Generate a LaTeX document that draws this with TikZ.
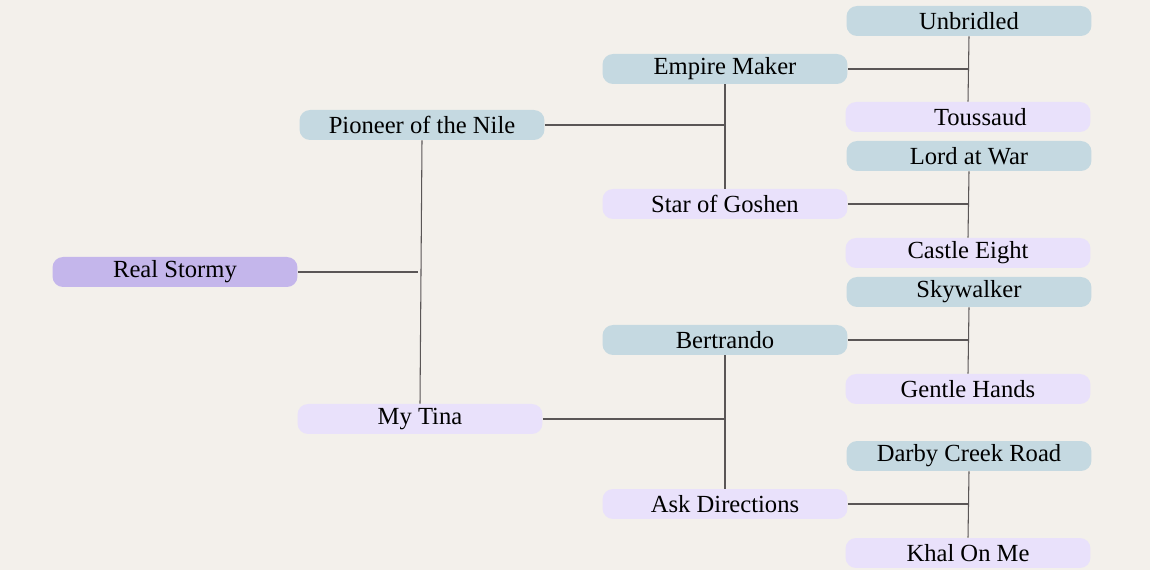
\documentclass[tikz,border=0pt]{standalone}
\usepackage{fontspec}
\setmainfont{Liberation Serif}
\definecolor{paper}{HTML}{F3F0EB}
\definecolor{sireblue}{HTML}{C5D9E1}
\definecolor{damlilac}{HTML}{E9E1FB}
\definecolor{rootlilac}{HTML}{C4B6EB}
\definecolor{wire}{HTML}{5A5656}
\begin{document}
\begin{tikzpicture}[x=0.02cm,y=-0.02cm,
	horse/.style={rounded corners=6pt,minimum width=4.9cm,minimum height=0.6cm,inner sep=0pt,font=\fontsize{14}{16}\selectfont},
	sire/.style={horse,fill=sireblue},
	dam/.style={horse,fill=damlilac},
	root/.style={horse,fill=rootlilac},
	wire/.style={draw=wire,line width=0.6pt}]
		
		\fill[paper] (0,0) rectangle (1150,570);
		\useasboundingbox (0,0) rectangle (1150,570);
		
		\node[root] (rs) at (175,272) {Real Stormy};
		
		\node[sire] (pn) at (422,125) {Pioneer of the Nile};
		\node[dam] (mt) at (420,419) {My Tina};
		
		\node[sire] (em) at (725,69) {Empire Maker};
		\node[dam] (sg) at (725,204) {Star of Goshen};
		\node[sire] (be) at (725,340) {Bertrando};
		\node[dam] (ad) at (725,504) {Ask Directions};
		
		\node[sire] (ub) at (969,21) {Unbridled};
		\node[dam] (to) at (968,117) {\hspace{14pt}Toussaud};
		\node[sire] (lw) at (969,156) {Lord at War};
		\node[dam] (ce) at (968,253) {Castle Eight};
		\node[sire] (sk) at (969,292) {Skywalker};
		\node[dam] (gh) at (968,389) {Gentle Hands};
		\node[sire] (dc) at (969,456) {Darby Creek Road};
		\node[dam] (km) at (968,553) {Khal On Me};
		
		
		\draw[wire] (pn.south) -- (mt.north);
		\draw[wire] (rs.east) -- (rs.east -| 418,0);
		
		\draw[wire] (em.south) -- (sg.north);
		\draw[wire] (pn.east) -- (pn.east -| em.south);
		\draw[wire] (be.south) -- (ad.north);
		\draw[wire] (mt.east) -- (mt.east -| be.south);
		
		\draw[wire] (ub.south) -- (to.north);
		\draw[wire] (em.east) -- (em.east -| ub.south);
		\draw[wire] (lw.south) -- (ce.north);
		\draw[wire] (sg.east) -- (sg.east -| lw.south);
		\draw[wire] (sk.south) -- (gh.north);
		\draw[wire] (be.east) -- (be.east -| sk.south);
		\draw[wire] (dc.south) -- (km.north);
		\draw[wire] (ad.east) -- (ad.east -| dc.south);
		
	\end{tikzpicture}
\end{document}
